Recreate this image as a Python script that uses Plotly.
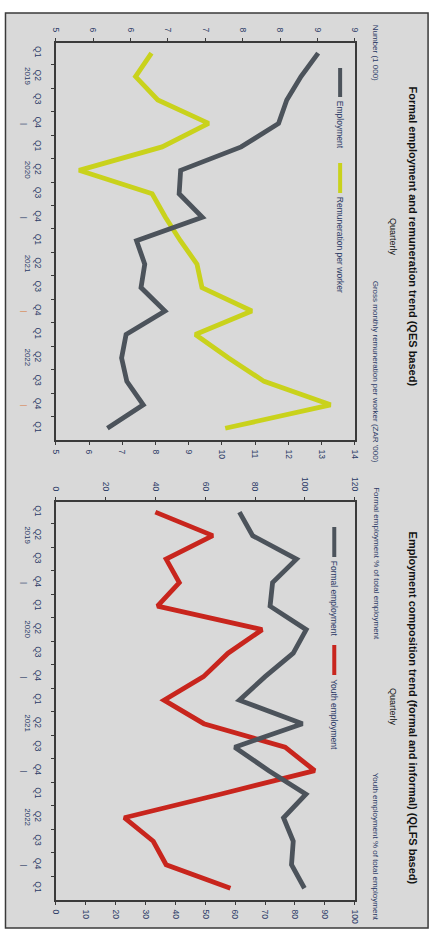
import plotly.graph_objects as go

# ---------------- data ----------------
quarters = ["Q1", "Q2", "Q3", "Q4", "Q1", "Q2", "Q3", "Q4", "Q1", "Q2", "Q3", "Q4",
            "Q1", "Q2", "Q3", "Q4", "Q1"]
year_labels = ["2019", "2020", "2021", "2022"]

employment = [8.51, 8.28, 8.09, 7.98, 7.48, 6.67, 6.65, 6.96, 6.08, 6.19, 6.14, 6.46,
              5.94, 5.88, 5.95, 6.17, 5.69]
remuneration = [7.88, 7.40, 8.07, 9.60, 8.20, 5.70, 7.90, 8.30, 8.75, 9.25, 9.40, 10.90,
                9.20, 10.20, 11.27, 13.27, 10.10]

formal_emp = [73.7, 79.0, 96.6, 87.0, 86.0, 100.5, 95.3, 84.0, 73.7, 99.0, 71.8, 85.5,
              100.4, 91.4, 95.3, 94.6, 99.8]
youth_emp = [33.3, 52.5, 36.9, 41.3, 34.0, 69.0, 57.6, 49.4, 36.2, 49.5, 76.7, 86.6,
             55.0, 22.9, 32.6, 36.9, 58.4]

left1_ticks = [5, 5.5, 6, 6.5, 7, 7.5, 8, 8.5, 9]
left1_text = ["5", "6", "6", "7", "7", "8", "8", "9", "9"]
right1_ticks = [5, 6, 7, 8, 9, 10, 11, 12, 13, 14]
left2_ticks = [0, 20, 40, 60, 80, 100, 120]
right2_ticks = [0, 10, 20, 30, 40, 50, 60, 70, 80, 90, 100]

# ---------------- style ----------------
W, H = 436, 933
FONT = "Liberation Sans"
TICK_COL = "#2b3a66"
FRAME = "#3a3a3a"
GREY_LINE = "#4c535b"
YELLOW = "#c9d21c"
RED = "#c8251d"
LW = 4.8

def px(x):
    return x / W

def py(y):
    return 1 - y / H

idx = list(range(len(quarters)))

fig = go.Figure()
fig.add_trace(go.Scatter(x=employment, y=idx, xaxis="x2", yaxis="y", mode="lines",
                         line=dict(color=GREY_LINE, width=LW), name="Employment"))
fig.add_trace(go.Scatter(x=remuneration, y=idx, xaxis="x", yaxis="y", mode="lines",
                         line=dict(color=YELLOW, width=LW), name="Remuneration per worker"))
fig.add_trace(go.Scatter(x=formal_emp, y=idx, xaxis="x4", yaxis="y2", mode="lines",
                         line=dict(color=GREY_LINE, width=LW), name="Formal employment"))
fig.add_trace(go.Scatter(x=youth_emp, y=idx, xaxis="x3", yaxis="y2", mode="lines",
                         line=dict(color=RED, width=LW), name="Youth employment"))

tickfont = dict(family=FONT, size=8.5, color=TICK_COL)
xdom = [px(52), px(358)]

def xax(rng, vals, text=None, side="bottom", anchor="y", overlay=None):
    d = dict(domain=xdom, range=rng, tickmode="array", tickvals=vals,
             ticktext=text if text else [str(v) for v in vals],
             side=side, anchor=anchor, tickangle=90, ticks="outside", ticklen=3,
             tickcolor=FRAME, tickwidth=1, showline=True, linecolor=FRAME, linewidth=1.5,
             showgrid=False, zeroline=False, tickfont=tickfont, ticklabelstandoff=3,
             fixedrange=True)
    if overlay:
        d["overlaying"] = overlay
    return d

def yax(dom, anchor):
    return dict(domain=dom, range=[16.5, -0.43], tickmode="array", tickvals=idx,
                ticktext=quarters, tickangle=90, ticks="outside", ticklen=5,
                tickcolor="rgba(0,0,0,0)", showline=True, mirror=True, linecolor=FRAME,
                linewidth=1.5, showgrid=False, zeroline=False, tickfont=tickfont,
                ticklabelstandoff=4, anchor=anchor,
                minor=dict(tickmode="array", tickvals=[i + 0.5 for i in idx[:-1]],
                           ticks="outside", ticklen=3, tickcolor=FRAME, tickwidth=1),
                fixedrange=True)

fig.update_layout(
    width=W, height=H, margin=dict(l=0, r=0, t=0, b=0),
    paper_bgcolor="white", plot_bgcolor="white", showlegend=False,
    font=dict(family=FONT, color="#111"),
    xaxis=xax([5, 14], right1_ticks, side="bottom", anchor="y"),
    xaxis2=xax([5, 9], left1_ticks, left1_text, side="top", anchor="y", overlay="x"),
    yaxis=yax([py(440), py(43)], "x"),
    xaxis3=xax([0, 100], right2_ticks, side="bottom", anchor="y2"),
    xaxis4=xax([0, 120], left2_ticks, side="top", anchor="y2", overlay="x3"),
    yaxis2=yax([py(900), py(502)], "x3"),
)

shapes = [dict(type="rect", xref="paper", yref="paper", x0=px(0.5), x1=px(433),
               y0=py(928), y1=py(13), fillcolor="#d9d9d9",
               line=dict(color=FRAME, width=1.5), layer="below")]

ann = []

def text(x, y, s, size, xa="center", ya="middle", bold=False, color="#111"):
    ann.append(dict(xref="paper", yref="paper", x=px(x), y=py(y), text=s, showarrow=False,
                    textangle=90, xanchor=xa, yanchor=ya,
                    font=dict(family=FONT, size=size, color=color,
                              weight="bold" if bold else "normal")))

def legend(x, y0, y1, color, label):
    shapes.append(dict(type="line", xref="paper", yref="paper", x0=px(x), x1=px(x),
                       y0=py(y0), y1=py(y1), line=dict(color=color, width=4)))
    text(x, y1 + 2, label, 8.5, ya="top", color=TICK_COL)

# Chart 1 texts
text(418, 237, "Formal employment and remuneration trend (QES based)", 11, bold=True)
text(397, 237, "Quarterly", 9)
text(380, 23, "Number (1 000)", 8, ya="top", color=TICK_COL)
text(380, 465, "Gross monthly remuneration per worker (ZAR '000)", 8, ya="bottom", color=TICK_COL)
legend(343, 68, 97, GREY_LINE, "Employment")
legend(343, 163, 193, YELLOW, "Remuneration per worker")

# Chart 2 texts
text(418, 708, "Employment composition trend (formal and informal) (QLFS based)", 11, bold=True)
text(397, 707, "Quarterly", 9)
text(380, 485, "Formal employment % of total employment", 8, ya="top", color=TICK_COL)
text(380, 923, "Youth employment % of total employment", 8, ya="bottom", color=TICK_COL)
legend(337, 527, 557, GREY_LINE, "Formal employment")
legend(337, 645, 675, RED, "Youth employment")

# Year labels and separators (data coordinates on category axis)
for yref, xr in (("y", "x domain"), ("y2", "x3 domain")):
    for k, yr in enumerate(year_labels):
        ann.append(dict(xref=xr, yref=yref, x=-(52 - 23) / 306, y=4 * k + 1, text=yr,
                        showarrow=False, textangle=90, xanchor="center", yanchor="middle",
                        font=dict(family=FONT, size=8, color=TICK_COL)))
        sep_col = "#d88a5a" if (yref == "y" and k >= 2) else TICK_COL
        ann.append(dict(xref=xr, yref=yref, x=-(52 - 20) / 306, y=4 * k + 3, text="|",
                        showarrow=False, textangle=90, xanchor="center", yanchor="middle",
                        font=dict(family=FONT, size=8, color=sep_col)))

fig.update_layout(shapes=shapes, annotations=ann)
fig.write_html("out.html", config={"displayModeBar": False},
               post_script="document.body.style.margin='0';document.body.style.overflow='hidden';")
